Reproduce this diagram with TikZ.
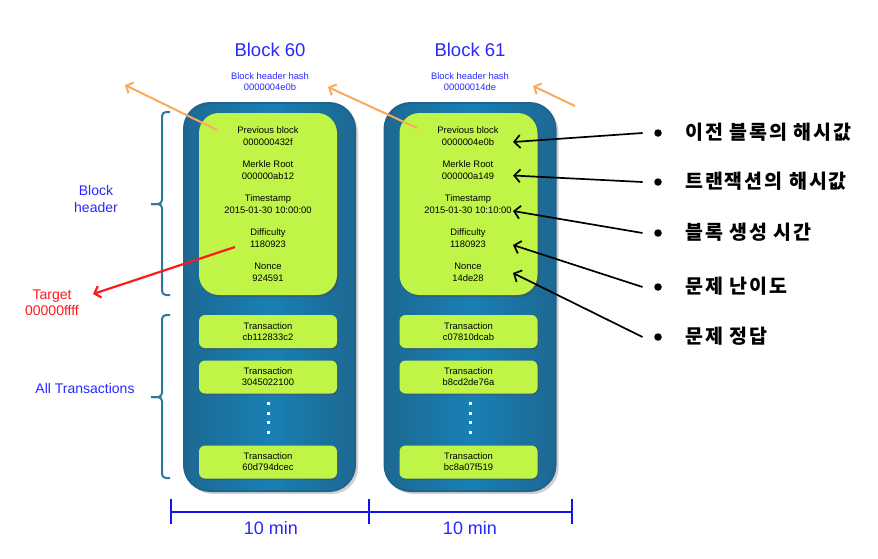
\documentclass[tikz,border=0pt]{standalone}
\usepackage{fontspec}
\setmainfont{Liberation Sans}
\newfontfamily\kr{Noto Sans CJK KR}[LetterSpace=10]
\usetikzlibrary{arrows.meta,shadows}
\definecolor{tblue}{RGB}{40,40,255}
\definecolor{lineblue}{RGB}{20,20,240}
\definecolor{outerc}{RGB}{24,128,180}
\definecolor{outerd}{RGB}{30,100,140}
\definecolor{greenc}{RGB}{192,245,72}
\definecolor{bracec}{RGB}{45,120,160}
\definecolor{orangec}{RGB}{250,170,95}
\definecolor{redc}{RGB}{255,25,25}
\begin{document}
\begin{tikzpicture}[x=1pt,y=-1pt,
  outerbox/.style={rectangle, rounded corners=26pt, draw=outerd, line width=2pt,
    left color=outerd!85!outerc, right color=outerd!85!outerc, middle color=outerc,
    drop shadow={shadow xshift=3pt, shadow yshift=-3pt, opacity=0.3, fill=black!60},
    minimum width=171, minimum height=388, inner sep=0pt},
  headbox/.style={rectangle, rounded corners=20pt, fill=greenc,
    drop shadow={shadow xshift=2pt, shadow yshift=-2pt, opacity=0.5, fill=black!70},
    minimum width=138, minimum height=182, inner sep=0pt},
  txbox/.style={rectangle, rounded corners=6pt, fill=greenc,
    drop shadow={shadow xshift=1.5pt, shadow yshift=-1.5pt, opacity=0.5, fill=black!70},
    minimum width=138, minimum height=33, inner sep=0pt,
    align=center, font=\fontsize{9.4}{11}\selectfont},
  field/.style={align=center, inner sep=0pt, font=\fontsize{9.4}{12}\selectfont},
  title/.style={text=tblue, inner sep=0pt, font=\fontsize{18.5}{22}\selectfont},
  hashlbl/.style={text=tblue, align=center, inner sep=0pt, font=\fontsize{9.4}{11}\selectfont},
  sidelbl/.style={text=tblue, align=center, inner sep=0pt, font=\fontsize{14}{17}\selectfont},
  tgtlbl/.style={text=redc, align=center, inner sep=0pt, font=\fontsize{14}{16}\selectfont},
  krlbl/.style={anchor=west, inner sep=0pt, font=\kr\bfseries\fontsize{19.5}{22}\selectfont},
  bulletdot/.style={circle, fill=black, minimum size=7.5pt, inner sep=0pt},
  bracepath/.style={draw=bracec, line width=2pt, rounded corners=4pt},
  orangearrow/.style={draw=orangec, line width=2pt, -{Straight Barb[length=5.5pt,width=12pt]}},
  redarrow/.style={draw=redc, line width=2.2pt, -{Straight Barb[length=5.5pt,width=12pt]}},
  blackarrow/.style={draw=black, line width=1.7pt, -{Straight Barb[length=6pt,width=13pt]}},
  tline/.style={draw=lineblue, line width=2.4pt},
  minlbl/.style={text=tblue, inner sep=0pt, font=\fontsize{18}{22}\selectfont},
  dotsq/.style={fill=white}
]
\useasboundingbox (0,0) rectangle (878,558);

% outer blocks
\node[outerbox] (blk60) at (269.5,297) {};
\node[outerbox] (blk61) at (470,297) {};

% headers
\node[headbox] (hd60) at (268,204) {};
\node[headbox] (hd61) at (468.5,204) {};

% header fields block 60
\node[field] (p60) at (268,136) {Previous block\\000000432f};
\node[field] (m60) at (268,170) {Merkle Root\\000000ab12};
\node[field] (s60) at (268,204) {Timestamp\\2015-01-30 10:00:00};
\node[field] (d60) at (268,238) {Difficulty\\1180923};
\node[field] (n60) at (268,272) {Nonce\\924591};

% header fields block 61
\node[field] (p61) at (468,136) {Previous block\\0000004e0b};
\node[field] (m61) at (468,170) {Merkle Root\\000000a149};
\node[field] (s61) at (468,204) {Timestamp\\2015-01-30 10:10:00};
\node[field] (d61) at (468,238) {Difficulty\\1180923};
\node[field] (n61) at (468,272) {Nonce\\14de28};

% transactions
\node[txbox] (ta60) at (268,331.5) {Transaction\\cb112833c2};
\node[txbox] (tb60) at (268,377) {Transaction\\3045022100};
\node[txbox] (tc60) at (268,462) {Transaction\\60d794dcec};
\node[txbox] (ta61) at (468.5,331.5) {Transaction\\c07810dcab};
\node[txbox] (tb61) at (468.5,377) {Transaction\\b8cd2de76a};
\node[txbox] (tc61) at (468.5,462) {Transaction\\bc8a07f519};

% vertical dots
\foreach \yy in {402,411.5,421,430.5}{
  \fill[dotsq] (266.5,\yy) rectangle (269.5,\yy+3);
  \fill[dotsq] (468.5,\yy) rectangle (471.5,\yy+3);
}

% titles and hashes
\node[title] (ttl60) at (270,50) {Block 60};
\node[title] (ttl61) at (470,50) {Block 61};
\node[hashlbl] (hash60) at (270,81.5) {Block header hash\\0000004e0b};
\node[hashlbl] (hash61) at (470,81.5) {Block header hash\\00000014de};

% orange arrows
\coordinate (o1s) at (217,130);
\coordinate (o1e) at (125,85);
\coordinate (o2s) at (417,128);
\coordinate (o2e) at (328,87);
\coordinate (o3s) at (575,106);
\coordinate (o3e) at (533,86);
\draw[orangearrow] (o1s) -- (o1e);
\draw[orangearrow] (o2s) -- (o2e);
\draw[orangearrow] (o3s) -- (o3e);

% braces
\draw[bracepath] (170,112) -- (162,112) -- (162,204) -- (151,204);
\draw[bracepath] (151,204) -- (162,204) -- (162,295) -- (170,295);
\draw[bracepath] (170,315) -- (162,315) -- (162,397) -- (151,397);
\draw[bracepath] (151,397) -- (162,397) -- (162,478) -- (170,478);

\node[sidelbl] (bhlbl) at (96,198.5) {Block\\header};
\node[sidelbl] (atlbl) at (85,388) {All Transactions};

% target
\node[tgtlbl] (tgt) at (52,303) {Target\\00000ffff};
\coordinate (r1s) at (235,247);
\coordinate (r1e) at (93,294);
\draw[redarrow] (r1s) -- (r1e);

% Korean labels
\node[bulletdot] (bul1) at (658,133) {};
\node[bulletdot] (bul2) at (658,182) {};
\node[bulletdot] (bul3) at (658,233) {};
\node[bulletdot] (bul4) at (658,287) {};
\node[bulletdot] (bul5) at (658,337) {};
\node[krlbl] (k1) at (685,132) {이전 블록의 해시값};
\node[krlbl] (k2) at (685,181) {트랜잭션의 해시값};
\node[krlbl] (k3) at (685,232) {블록 생성 시간};
\node[krlbl] (k4) at (685,286) {문제 난이도};
\node[krlbl] (k5) at (685,336) {문제 정답};

\coordinate (a1) at (513,142);
\coordinate (a2) at (513,175.5);
\coordinate (a3) at (513,211);
\coordinate (a4) at (513,245);
\coordinate (a5) at (513,273);
\draw[blackarrow] ([xshift=-11.5pt]bul1.west) -- (a1);
\draw[blackarrow] ([xshift=-11.5pt]bul2.west) -- (a2);
\draw[blackarrow] ([xshift=-11.5pt]bul3.west) -- (a3);
\draw[blackarrow] ([xshift=-11.5pt]bul4.west) -- (a4);
\draw[blackarrow] ([xshift=-11.5pt]bul5.west) -- (a5);

% timeline
\coordinate (tl0) at (171,512);
\coordinate (tl1) at (369,512);
\coordinate (tl2) at (572,512);
\draw[tline] (tl0) -- (tl1) -- (tl2);
\draw[tline] ([yshift=13pt]tl0) -- ([yshift=-12pt]tl0);
\draw[tline] ([yshift=13pt]tl1) -- ([yshift=-12pt]tl1);
\draw[tline] ([yshift=13pt]tl2) -- ([yshift=-12pt]tl2);
\node[minlbl] (min1) at (271,528) {10 min};
\node[minlbl] (min2) at (470,528) {10 min};
\end{tikzpicture}
\end{document}
